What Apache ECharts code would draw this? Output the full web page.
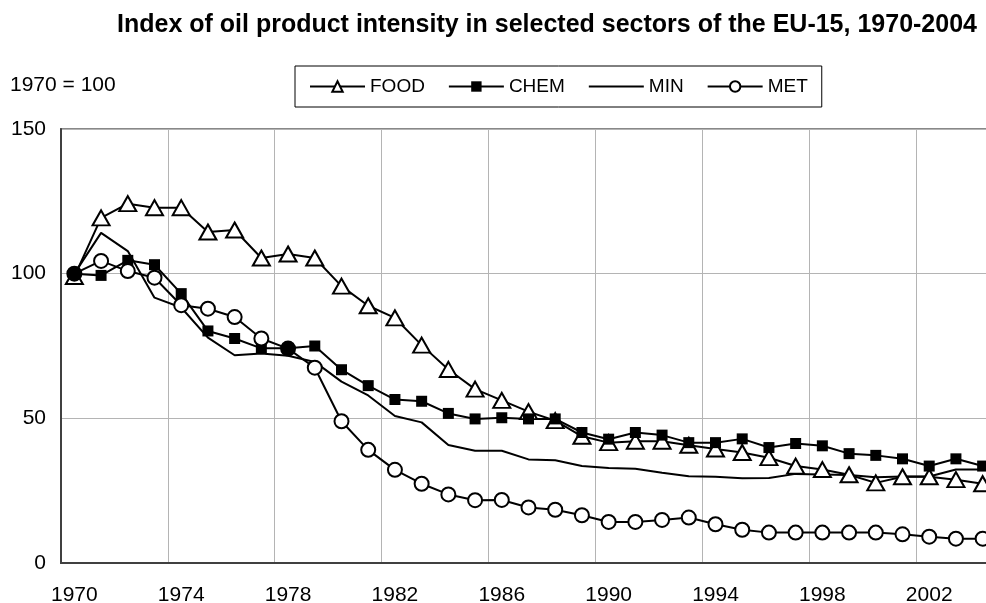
<!DOCTYPE html>
<html>
<head>
<meta charset="utf-8">
<script src="https://cdn.jsdelivr.net/npm/echarts@6/dist/echarts.min.js"></script>
<style>html,body{margin:0;padding:0;background:#fff}#c{width:986px;height:603px}</style>
</head>
<body>
<div id="c"></div>
<script>
const years = ['1970','1971','1972','1973','1974','1975','1976','1977','1978','1979','1980','1981','1982','1983','1984','1985','1986','1987','1988','1989','1990','1991','1992','1993','1994','1995','1996','1997','1998','1999','2000','2001','2002','2003','2004'];
const food = [99,119.3,124.2,122.8,122.8,114.4,115.1,105.4,106.8,105.4,95.7,88.9,84.7,75.3,66.9,60.1,56.2,52.3,49.2,43.8,41.6,42.1,42.1,40.7,39.4,38.2,36.4,33.5,32.3,30.5,27.7,29.8,29.8,28.8,27.4];
const chem = [100,99.4,104.6,103.1,93.1,80.2,77.6,74.2,74.2,75.0,66.8,61.3,56.5,55.9,51.7,49.8,50.2,49.8,49.8,45.1,42.8,45.1,44.2,41.6,41.6,42.9,39.9,41.3,40.5,37.8,37.2,36.0,33.5,36.0,33.5];
const minS = [100,114.1,107.8,91.7,88.3,77.9,71.8,72.4,71.6,69.5,62.7,57.9,50.8,48.6,40.8,38.8,38.8,35.8,35.5,33.5,32.8,32.6,31.2,30.0,29.8,29.3,29.4,30.8,30.6,30.4,29.6,29.9,29.9,32.3,32.3];
const met = [100,104.4,100.9,98.6,89.1,87.9,85.0,77.6,74.1,67.5,49.0,39.1,32.2,27.4,23.7,21.7,21.8,19.2,18.4,16.5,14.2,14.2,14.9,15.7,13.4,11.5,10.5,10.5,10.5,10.5,10.5,9.9,9.1,8.4,8.4];
const metFilled = [0, 8];
const yTicks = [0, 50, 100, 150];

const chart = echarts.init(document.getElementById('c'), null, {renderer: 'canvas'});
const FONT = "'Liberation Sans', Arial, sans-serif";
const lineStyle = {color: '#000', width: 2};

chart.setOption({
  backgroundColor: '#fff',
  animation: false,
  title: {
    text: 'Index of oil product intensity in selected sectors of the EU-15, 1970-2004',
    left: 112, top: 8,
    textStyle: {fontFamily: FONT, fontSize: 25, fontWeight: 'bold', color: '#000'}
  },
  graphic: [{
    type: 'text', left: 10, top: 75,
    style: {text: '1970 = 100', fontFamily: FONT, fontSize: 21, fill: '#000'}
  }],
  legend: {
    left: 295, top: 66,
    padding: [11, 14],
    borderColor: '#000', borderWidth: 1,
    itemGap: 23, itemWidth: 55, itemHeight: 13,
    textStyle: {fontFamily: FONT, fontSize: 19, color: '#000'},
    data: ['FOOD', 'CHEM', {name: 'MIN', itemStyle: {color: 'rgba(0,0,0,0)', borderColor: 'rgba(0,0,0,0)', borderWidth: 0}}, 'MET']
  },
  grid: {
    left: 61, top: 129, width: 935, height: 434,
    outerBoundsMode: 'none', containLabel: false,
    show: true, borderColor: '#888', borderWidth: 2, backgroundColor: 'transparent'
  },
  xAxis: {
    type: 'category', data: years, boundaryGap: true,
    axisLine: {lineStyle: {color: '#404040', width: 2}},
    axisTick: {show: false},
    axisLabel: {interval: 3, margin: 22, fontFamily: FONT, fontSize: 21, color: '#000'},
    splitLine: {show: true, interval: 3, lineStyle: {color: '#b4b4b4', width: 1}}
  },
  yAxis: {
    type: 'value', min: yTicks[0], max: yTicks[yTicks.length - 1], interval: 50,
    axisLine: {show: true, lineStyle: {color: '#404040', width: 2}},
    axisTick: {show: false},
    axisLabel: {margin: 15, fontFamily: FONT, fontSize: 21, color: '#000'},
    splitLine: {show: true, lineStyle: {color: '#b4b4b4', width: 1}}
  },
  series: [
    {name: 'FOOD', type: 'line', data: food, symbol: 'triangle', symbolSize: [17, 15],
     lineStyle: lineStyle, itemStyle: {color: '#fff', borderColor: '#000', borderWidth: 2}},
    {name: 'CHEM', type: 'line', data: chem, symbol: 'rect', symbolSize: 11,
     lineStyle: lineStyle, itemStyle: {color: '#000', borderColor: '#000', borderWidth: 0}},
    {name: 'MIN', type: 'line', data: minS, symbol: 'none',
     lineStyle: lineStyle, itemStyle: {color: '#000'}},
    {name: 'MET', type: 'line',
     data: met.map((v, i) => metFilled.indexOf(i) >= 0 ? {value: v, itemStyle: {color: '#000'}} : v),
     symbol: 'circle', symbolSize: 14,
     lineStyle: lineStyle, itemStyle: {color: '#fff', borderColor: '#000', borderWidth: 2}}
  ]
});
</script>
</body>
</html>
